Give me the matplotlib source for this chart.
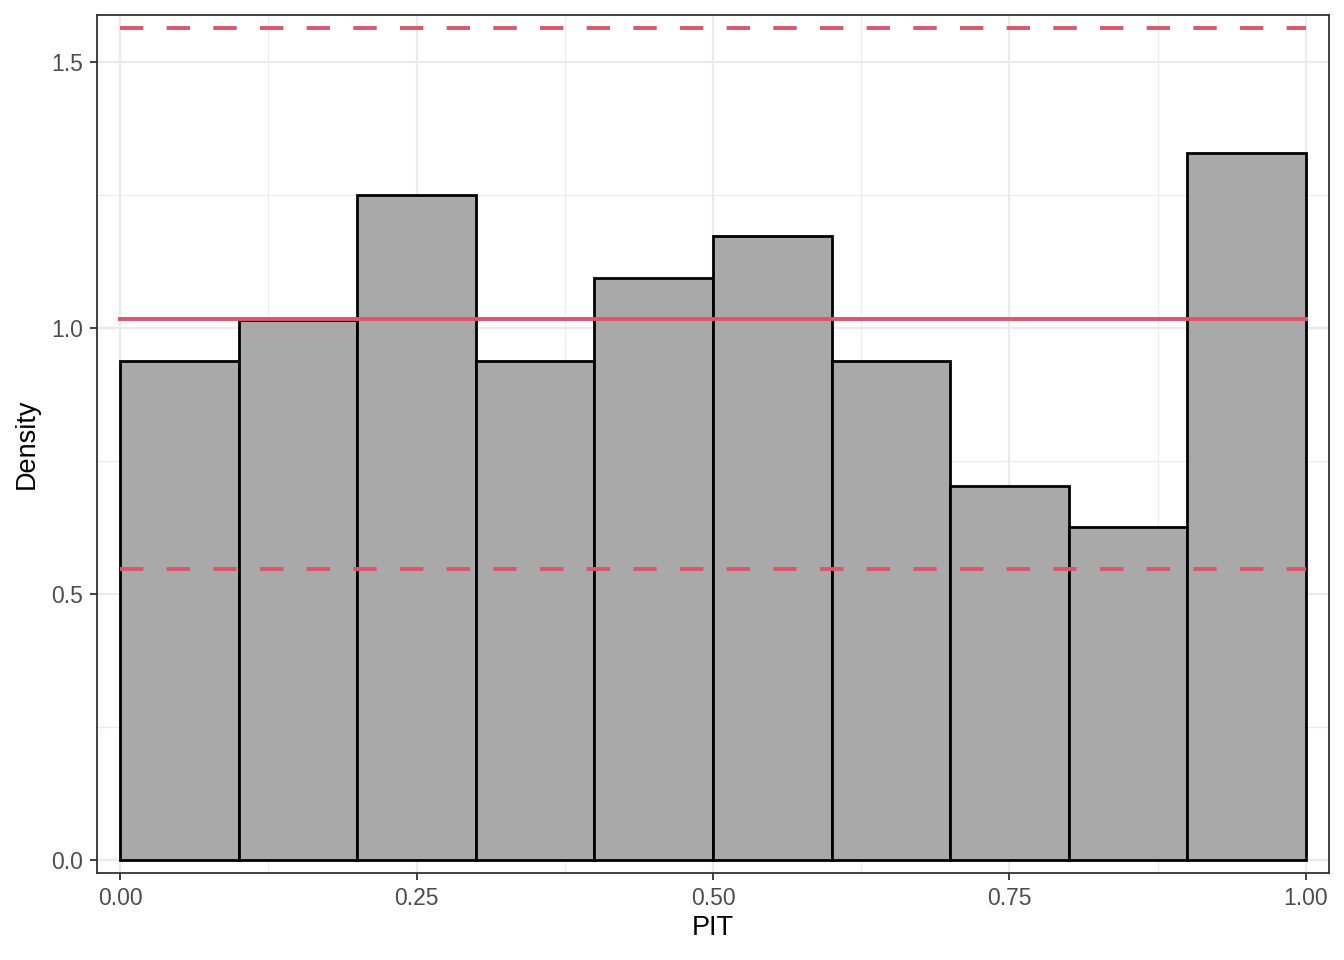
import numpy as np
import matplotlib
matplotlib.use("Agg")
import matplotlib.pyplot as plt
from matplotlib.ticker import MultipleLocator

plt.rcParams["font.family"] = ["Liberation Sans", "DejaVu Sans"]

# ---- data ----
bin_edges = [0.0, 0.1, 0.2, 0.3, 0.4, 0.5, 0.6, 0.7, 0.8, 0.9, 1.0]
bin_counts = [12, 13, 16, 12, 14, 15, 12, 9, 8, 17]
n_total = 128
ref_mean = 1.016
ref_lower = 0.547
ref_upper = 1.564

x_ticks = [0.0, 0.25, 0.5, 0.75, 1.0]
x_labels = ["0.00", "0.25", "0.50", "0.75", "1.00"]
y_ticks = [0.0, 0.5, 1.0, 1.5]
y_labels = ["0.0", "0.5", "1.0", "1.5"]

# ---- figure ----
W, H = 1344, 960
fig = plt.figure(figsize=(W / 100, H / 100), dpi=100)
ax = fig.add_axes([97 / W, (H - 873) / H, (1329 - 97) / W, (873 - 15) / H])

widths = np.diff(bin_edges)
density = np.array(bin_counts) / (n_total * widths)
ax.bar(bin_edges[:-1], density, width=widths, align="edge",
       color="#A9A9A9", edgecolor="black", linewidth=2.0, zorder=2)

red = "#DF536B"
ax.plot([bin_edges[0], bin_edges[-1]], [ref_mean, ref_mean], color=red, lw=2.8, zorder=3)
for yv in (ref_lower, ref_upper):
    ax.plot([bin_edges[0], bin_edges[-1]], [yv, yv], color=red, lw=2.8,
            dashes=(6, 6), zorder=3)

ax.set_xlim(-0.0194, 1.0194)
ax.set_ylim(-0.0244, 1.588)

ax.set_xticks(x_ticks)
ax.set_xticklabels(x_labels)
ax.set_yticks(y_ticks)
ax.set_yticklabels(y_labels)
ax.xaxis.set_minor_locator(MultipleLocator(0.125))
ax.yaxis.set_minor_locator(MultipleLocator(0.25))

ax.grid(True, which="major", color="#EBEBEB", lw=1.6, zorder=0)
ax.grid(True, which="minor", color="#EBEBEB", lw=0.8, zorder=0)
ax.set_axisbelow(True)
ax.tick_params(which="minor", length=0)
ax.tick_params(which="major", length=5, width=1.3, color="#333333",
               labelcolor="#4D4D4D", labelsize=16.5, pad=5)
for s in ax.spines.values():
    s.set_color("#333333")
    s.set_linewidth(1.3)

ax.set_xlabel("PIT", fontsize=19.5, labelpad=4)
ax.set_ylabel("Density", fontsize=19.5, labelpad=8)

fig.savefig("out.png", dpi=100)
